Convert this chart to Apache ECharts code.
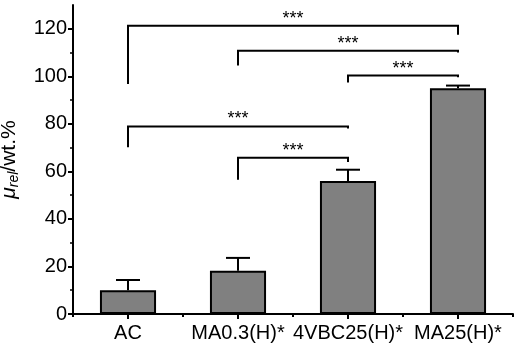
<!DOCTYPE html>
<html>
<head>
<meta charset="utf-8">
<script src="https://cdn.jsdelivr.net/npm/echarts@6/dist/echarts.min.js"></script>
<style>
  html, body { margin: 0; padding: 0; background: #fff; }
  #chart { width: 517px; height: 348px; }
</style>
</head>
<body>
<div id="chart"></div>
<script>
const categories = ['AC', 'MA0.3(H)*', '4VBC25(H)*', 'MA25(H)*']
const means = [10, 18.2, 56, 95]
const errors = [4.3, 5.4, 4.7, 1.1]
const yTicks = [0, 20, 40, 60, 80, 100, 120]

// significance brackets
const bracketFrom = [0, 1, 2, 0, 1]
const bracketTo = [3, 3, 3, 2, 2]
const bracketTop = [121.3, 110.8, 100.3, 78.9, 65.7]
const bracketLeftEnd = [96.8, 104.5, 97.4, 70.2, 56.5]
const bracketRightEnd = [117.5, 110, 99.6, 78, 64]
const bracketLabel = ['***', '***', '***', '***', '***']

var myChart = echarts.init(document.getElementById('chart'))
const font = "'Liberation Sans', Arial, sans-serif"

var errData = means.map((m, i) => [i, m, m + errors[i]])
var bracketData = bracketFrom.map((f, i) => [f, bracketTo[i], bracketTop[i], bracketLeftEnd[i], bracketRightEnd[i], i])

var option = {
  animation: false,
  grid: { left: 73, right: 4, top: 5, bottom: 34, outerBoundsMode: 'none' },
  xAxis: [
    {
      type: 'category',
      data: categories,
      axisLine: { lineStyle: { color: '#000', width: 2 } },
      axisTick: { show: true, inside: false, length: 3, lineStyle: { color: '#000', width: 2 } },
      axisLabel: { color: '#000', fontSize: 20, fontFamily: font, margin: 9, interval: 0 },
    },
    {
      type: 'category',
      data: categories,
      position: 'bottom',
      axisLine: { show: false },
      axisTick: { show: true, alignWithLabel: true, length: 5, lineStyle: { color: '#000', width: 2 } },
      axisLabel: { show: false },
    },
  ],
  yAxis: {
    type: 'value',
    min: 0,
    max: 130,
    interval: 20,
    name: '{mu|μ}{sub|rel}{n|/wt.%}',
    nameLocation: 'middle',
    nameGap: 52,
    nameRotate: 90,
    nameTextStyle: {
      rich: {
        mu: { fontSize: 21, fontStyle: 'italic', fontFamily: font, color: '#000' },
        sub: { fontSize: 14, fontStyle: 'italic', fontFamily: font, color: '#000', verticalAlign: 'bottom', padding: [10, 0, 0, 0] },
        n: { fontSize: 21, fontFamily: font, color: '#000' },
      },
    },
    splitLine: { show: false },
    axisLine: { show: true, lineStyle: { color: '#000', width: 2 } },
    axisTick: { show: true, inside: false, length: 5, lineStyle: { color: '#000', width: 2 }, customValues: yTicks },
    minorTick: { show: true, splitNumber: 2, length: 3, lineStyle: { color: '#000', width: 1.5 } },
    axisLabel: { color: '#000', fontSize: 20, fontFamily: font, margin: 6, customValues: yTicks },
  },
  series: [
    {
      type: 'bar',
      data: means,
      barWidth: '51%',
      itemStyle: { color: '#808080', borderColor: '#000', borderWidth: 2 },
      z: 2,
    },
    {
      type: 'custom',
      data: errData,
      z: 1,
      renderItem: function (params, api) {
        var base = api.coord([api.value(0), api.value(1)])
        var top = api.coord([api.value(0), api.value(2)])
        var cap = 12
        return {
          type: 'group',
          children: [
            { type: 'line', shape: { x1: base[0], y1: base[1], x2: top[0], y2: top[1] }, style: { stroke: '#000', lineWidth: 2 } },
            { type: 'line', shape: { x1: top[0] - cap, y1: top[1], x2: top[0] + cap, y2: top[1] }, style: { stroke: '#000', lineWidth: 2 } },
          ],
        }
      },
    },
    {
      type: 'custom',
      data: bracketData,
      z: 3,
      renderItem: function (params, api) {
        var l = api.coord([api.value(0), api.value(2)])
        var r = api.coord([api.value(1), api.value(2)])
        var lb = api.coord([api.value(0), api.value(3)])
        var rb = api.coord([api.value(1), api.value(4)])
        return {
          type: 'group',
          children: [
            {
              type: 'polyline',
              shape: { points: [[lb[0], lb[1]], [l[0], l[1]], [r[0], r[1]], [rb[0], rb[1]]] },
              style: { stroke: '#000', lineWidth: 2, fill: null },
            },
            {
              type: 'text',
              style: {
                text: bracketLabel[api.value(5)],
                x: (l[0] + r[0]) / 2,
                y: l[1] + 2,
                align: 'center',
                verticalAlign: 'bottom',
                fontSize: 18,
                fontFamily: font,
                fill: '#000',
              },
            },
          ],
        }
      },
    },
  ],
}

option && myChart.setOption(option)
window.addEventListener('resize', function () {
  myChart.resize()
})
</script>
</body>
</html>
